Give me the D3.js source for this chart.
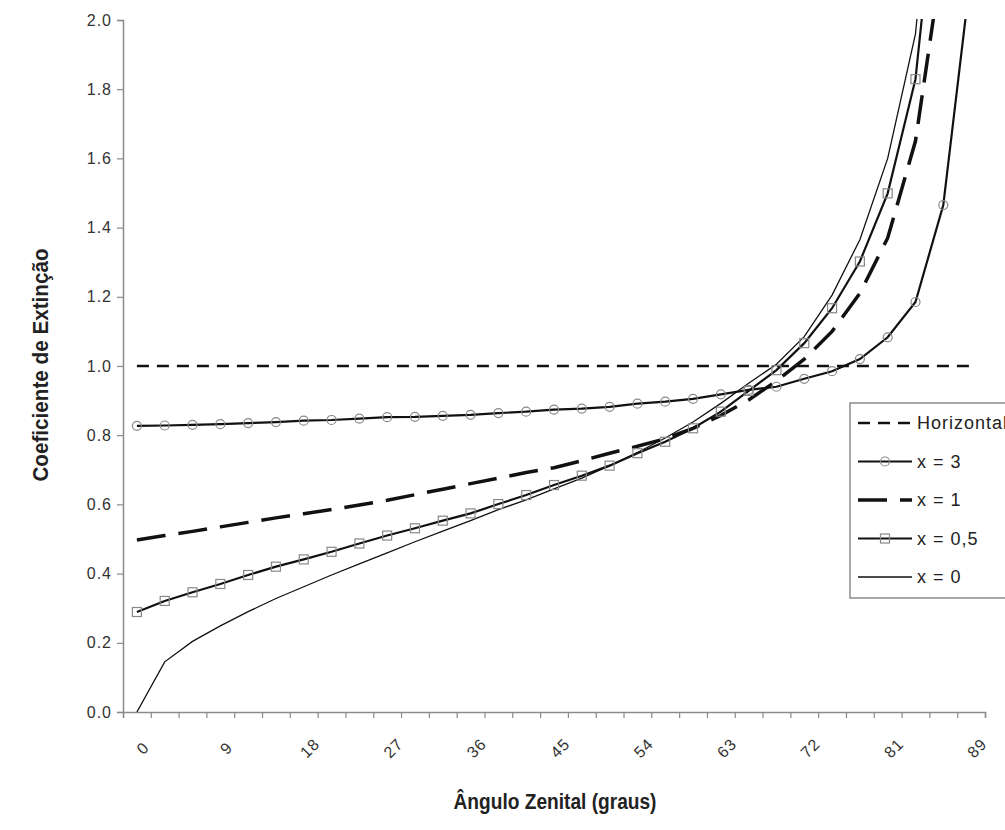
<!DOCTYPE html>
<html>
<head>
<meta charset="utf-8">
<script src="https://cdn.jsdelivr.net/npm/d3@7"></script>
<style>
  body { margin: 0; background: #fff; }
  svg { display: block; font-family: "Liberation Sans", Arial, sans-serif; }
</style>
</head>
<body>
<div id="chart"></div>
<script>
// category axis: zenith angle (degrees)
var angles = [0, 3, 6, 9, 12, 15, 18, 21, 24, 27, 30, 33, 36, 39, 42, 45, 48, 51, 54, 57,
              60, 63, 66, 69, 72, 75, 78, 81, 84, 87, 89];
var angleLabels = [0, 9, 18, 27, 36, 45, 54, 63, 72, 81, 89];
var yTicks = [0, 0.2, 0.4, 0.6, 0.8, 1.0, 1.2, 1.4, 1.6, 1.8, 2.0];

// series
var horizontal = [1, 1, 1, 1, 1, 1, 1, 1, 1, 1, 1, 1, 1, 1, 1, 1, 1, 1, 1, 1,
                  1, 1, 1, 1, 1, 1, 1, 1, 1, 1, 1];
var x3 = [0.827, 0.828, 0.830, 0.832, 0.835, 0.838, 0.842, 0.844, 0.848, 0.852, 0.853, 0.856, 0.859, 0.864, 0.868, 0.874,
          0.877, 0.882, 0.891, 0.897, 0.905, 0.918, 0.931, 0.940, 0.963, 0.985, 1.020, 1.083, 1.185, 1.465, 2.14];
var x1 = [0.497, 0.510, 0.522, 0.535, 0.548, 0.561, 0.573, 0.585, 0.598, 0.612, 0.628, 0.644, 0.660, 0.676, 0.692, 0.706,
          0.726, 0.748, 0.768, 0.790, 0.820, 0.857, 0.902, 0.957, 1.020, 1.100, 1.210, 1.370, 1.650, 2.20, 3.00];
var x05 = [0.289, 0.321, 0.346, 0.370, 0.396, 0.420, 0.441, 0.463, 0.487, 0.510, 0.531, 0.553, 0.574, 0.601, 0.627, 0.656,
           0.683, 0.712, 0.748, 0.781, 0.820, 0.868, 0.928, 0.988, 1.066, 1.167, 1.302, 1.499, 1.829, 2.60, 4.00];
var x0 = [0.000, 0.145, 0.204, 0.249, 0.290, 0.328, 0.362, 0.396, 0.428, 0.460, 0.492, 0.523, 0.553, 0.585, 0.613, 0.645,
          0.676, 0.712, 0.750, 0.792, 0.838, 0.892, 0.950, 1.005, 1.085, 1.205, 1.365, 1.600, 1.960, 2.80, 5.00];

var svgWidth = 1005;
var svgHeight = 830;

var plot = { left: 123, right: 985, top: 20, bottom: 712 };

var svg = d3.select("#chart")
  .append("svg")
  .attr("width", svgWidth)
  .attr("height", svgHeight);

// scales
var xBand = d3.scaleBand()
  .domain(angles)
  .range([plot.left, plot.right])
  .padding(0);
var xEdge = d3.scaleLinear()
  .domain([0, angles.length])
  .range([plot.left, plot.right]);
var yScale = d3.scaleLinear()
  .domain([0, 2])
  .range([plot.bottom, plot.top]);

function xPos(i) { return xBand(angles[i]) + xBand.bandwidth() / 2; }

svg.append("clipPath").attr("id", "plotClip")
  .append("rect")
  .attr("x", plot.left).attr("y", plot.top - 1)
  .attr("width", plot.right - plot.left).attr("height", plot.bottom - plot.top + 1);

// axes
var yAxis = svg.append("g")
  .attr("transform", `translate(${plot.left},0)`)
  .call(d3.axisLeft(yScale).tickValues(yTicks).tickSize(6).tickPadding(5).tickFormat(d3.format(".1f")));

var xAxis = svg.append("g")
  .attr("transform", `translate(0,${plot.bottom})`)
  .call(d3.axisBottom(xEdge).tickValues(d3.range(angles.length + 1)).tickSize(6).tickFormat(""));

[yAxis, xAxis].forEach(function(g) {
  g.select(".domain").attr("stroke", "#8a8a8a").attr("stroke-width", 1.5);
  g.selectAll(".tick line").attr("stroke", "#8a8a8a").attr("stroke-width", 1.2);
});
yAxis.selectAll(".tick text")
  .attr("font-size", "16px")
  .attr("fill", "#333")
  .attr("letter-spacing", "1px");

// rotated category labels
svg.append("g").selectAll("text")
  .data(angleLabels)
  .enter()
  .append("text")
  .attr("transform", function(d) {
    var i = angles.indexOf(d);
    return `translate(${xPos(i) + 6},${plot.bottom + 36}) rotate(-45)`;
  })
  .attr("text-anchor", "middle")
  .attr("dy", "0.35em")
  .attr("font-size", "16px")
  .attr("letter-spacing", "1px")
  .attr("fill", "#333")
  .text(function(d) { return d; });

// series
var series = [
  { name: "Horizontal", values: horizontal, width: 2.5, dash: "12,8", marker: null },
  { name: "x = 3", values: x3, width: 2.2, dash: null, marker: "circle" },
  { name: "x = 1", values: x1, width: 3.5, dash: "29,13", marker: null },
  { name: "x = 0,5", values: x05, width: 2.2, dash: null, marker: "square" },
  { name: "x = 0", values: x0, width: 1.3, dash: null, marker: null }
];

var line = d3.line()
  .x(function(d, i) { return xPos(i); })
  .y(function(d) { return yScale(d); });

var plotGroup = svg.append("g").attr("clip-path", "url(#plotClip)");

series.slice().reverse().forEach(function(s) {
  plotGroup.append("path")
    .attr("d", line(s.values))
    .attr("fill", "none")
    .attr("stroke", "#111")
    .attr("stroke-width", s.width)
    .attr("stroke-dasharray", s.dash);
});

function drawMarker(g, type, cx, cy) {
  if (type === "circle") {
    g.append("circle")
      .attr("cx", cx).attr("cy", cy).attr("r", 4.5)
      .attr("fill", "none").attr("stroke", "#888").attr("stroke-width", 1.2);
  } else if (type === "square") {
    g.append("rect")
      .attr("x", cx - 4.5).attr("y", cy - 4.5).attr("width", 9).attr("height", 9)
      .attr("fill", "none").attr("stroke", "#888").attr("stroke-width", 1.2);
  }
}

series.forEach(function(s) {
  if (!s.marker) return;
  s.values.forEach(function(v, i) {
    if (v > 2) return;
    drawMarker(plotGroup, s.marker, xPos(i), yScale(v));
  });
});

// legend
var legend = svg.append("g");
legend.append("rect")
  .attr("x", 850).attr("y", 403)
  .attr("width", 180).attr("height", 195)
  .attr("fill", "#fff")
  .attr("stroke", "#8a8a8a")
  .attr("stroke-width", 1.5);

series.forEach(function(s, k) {
  var ly = 423 + k * 38.5;
  legend.append("line")
    .attr("x1", 858).attr("x2", 912)
    .attr("y1", ly).attr("y2", ly)
    .attr("stroke", "#111")
    .attr("stroke-width", s.width)
    .attr("stroke-dasharray", s.dash);
  if (s.marker) drawMarker(legend, s.marker, 885, ly);
  legend.append("text")
    .attr("x", 917).attr("y", ly)
    .attr("dy", "0.35em")
    .attr("font-size", "18px")
    .attr("letter-spacing", "1px")
    .attr("fill", "#222")
    .text(s.name);
});

// axis titles
svg.append("text")
  .attr("transform", "translate(48,365) rotate(-90) scale(0.94,1)")
  .attr("text-anchor", "middle")
  .attr("font-size", "22px")
  .attr("font-weight", "bold")
  .attr("fill", "#222")
  .text("Coeficiente de Extinção");

svg.append("text")
  .attr("transform", "translate(555,809) scale(0.87,1)")
  .attr("text-anchor", "middle")
  .attr("font-size", "22px")
  .attr("font-weight", "bold")
  .attr("fill", "#222")
  .text("Ângulo Zenital (graus)");
</script>
</body>
</html>
